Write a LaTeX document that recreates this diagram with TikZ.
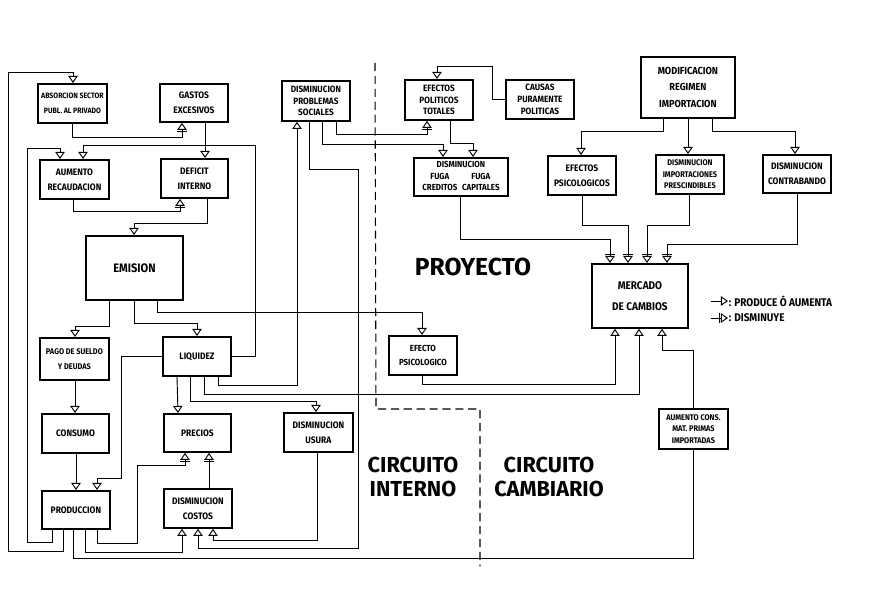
\documentclass[tikz,border=0pt]{standalone}
\usepackage{fontspec}
\usetikzlibrary{arrows.meta,calc}
\newfontfamily\letras{Fira Sans}[FakeStretch=0.9]
\newfontfamily\grandes{Fira Sans}

\tikzset{
  caja/.style={draw, line width=1.6pt, fill=white, anchor=north west, align=center,
    inner sep=1pt, font=\letras\bfseries\fontsize{8}{12.5}\selectfont},
  tres/.style={font=\letras\bfseries\fontsize{7.8}{10}\selectfont},
  chica/.style={font=\letras\bfseries\fontsize{6.6}{12.5}\selectfont},
  grande/.style={font=\letras\bfseries\fontsize{10.5}{17}\selectfont},
  tam/.style 2 args={minimum width=#1*0.03cm, minimum height=#2*0.03cm},
  flujo/.style={line width=0.8pt},
  produce/.style={flujo, -{Triangle[open, width=8pt, length=6pt]}},
  disminuye/.style={flujo, -{Bar[width=9pt, sep=1.2pt] Triangle[open, width=8pt, length=6pt]}},
  titulo/.style={font=\grandes\bfseries\fontsize{18.5}{20.5}\selectfont, align=center},
  leyenda/.style={font=\letras\bfseries\fontsize{9.5}{11}\selectfont, inner sep=0.5pt},
}

\begin{document}
\begin{tikzpicture}[x=0.03cm, y=-0.03cm]
  \useasboundingbox (0,0) rectangle (872,596);

  % Circuito interno
  \node[caja, chica, tam={69}{39}] (absor) at (37,83) {ABSORCION SECTOR\\PUBL. AL PRIVADO};
  \node[caja, tam={68}{38}] (gastos) at (159,83) {GASTOS\\EXCESIVOS};
  \node[caja, tam={69}{39}] (aumento) at (39,159) {AUMENTO\\RECAUDACION};
  \node[caja, tam={67}{39}] (deficit) at (160,158) {DEFICIT\\INTERNO};
  \node[caja, grande, tam={97}{64}] (emision) at (85,235) {EMISION};
  \node[caja, font=\letras\bfseries\fontsize{7}{12.5}\selectfont, tam={69}{42}] (pago) at (39,337) {PAGO DE SUELDO\\Y DEUDAS};
  \node[caja, tam={68}{39}] (liquidez) at (162,336) {LIQUIDEZ};
  \node[caja, tam={67}{39}] (consumo) at (41,413) {CONSUMO};
  \node[caja, tam={67}{38}] (precios) at (163,413) {PRECIOS};
  \node[caja, tam={69}{39}] (usura) at (283,412) {DISMINUCION\\USURA};
  \node[caja, tam={68}{38}] (produc) at (41,490) {PRODUCCION};
  \node[caja, tam={68}{39}] (costos) at (163,488) {DISMINUCION\\COSTOS};
  \node[caja, tres, tam={68}{40}] (problemas) at (281,80) {DISMINUCION\\PROBLEMAS\\SOCIALES};

  % Circuito cambiario
  \node[caja, tres, tam={68}{40}] (politicos) at (404,79) {EFECTOS\\POLITICOS\\TOTALES};
  \node[caja, tres, tam={68}{39}] (causas) at (505,79) {CAUSAS\\PURAMENTE\\POLITICAS};
  \node[caja, font=\letras\bfseries\fontsize{7.5}{10}\selectfont, tam={94}{38}] (fuga) at (413,157)
    {\begin{tabular}{@{}c@{\hspace{4pt}}c@{}}\multicolumn{2}{c}{DISMINUCION}\\FUGA&FUGA\\CREDITOS&CAPITALES\end{tabular}};
  \node[caja, font=\letras\bfseries\fontsize{8.7}{14}\selectfont, tam={94}{61}] (modif) at (640,56) {MODIFICACION\\REGIMEN\\IMPORTACION};
  \node[caja, tam={68}{39}] (efpsico) at (547,155) {EFECTOS\\PSICOLOGICOS};
  \node[caja, font=\letras\bfseries\fontsize{7}{10}\selectfont, tam={68}{39}] (imports) at (655,154) {DISMINUCION\\IMPORTACIONES\\PRESCINDIBLES};
  \node[caja, tam={68}{38}] (contra) at (762,154) {DISMINUCION\\CONTRABANDO};
  \node[caja, font=\letras\bfseries\fontsize{9.5}{18}\selectfont, tam={96}{64}] (mercado) at (591,263) {MERCADO\\DE CAMBIOS};
  \node[caja, font=\letras\bfseries\fontsize{7.5}{12.5}\selectfont, tam={68}{39}] (efecto) at (388,335) {EFECTO\\PSICOLOGICO};
  \node[caja, font=\letras\bfseries\fontsize{7}{10}\selectfont, tam={69}{40}] (matprim) at (658,408) {AUMENTO CONS.\\MAT. PRIMAS\\IMPORTADAS};

  % Division entre circuitos
  \draw[line width=0.9pt, dash pattern=on 7pt off 4pt] (375,63) -- (376,409) -- (480,409) -- (480,566);

  % Lazos que salen de la produccion
  \draw[produce] ($(produc.south west)+(22,0)$) |- (8,551) -- (8,72) -| ($(absor.north west)+(36,0)$);
  \draw[produce] ($(produc.south west)+(11,0)$) |- (27,542) -- (27,148) -| ($(aumento.north west)+(21,0)$);
  \draw[flujo] ($(produc.south west)+(32,0)$) |- (693,558) -- ($(matprim.south west)+(35,0)$);
  \draw[produce] ($(produc.south west)+(44,0)$) -- ++(0,23) -| ($(costos.south west)+(19,0)$);
  \draw[disminuye] ($(produc.south west)+(56,0)$) -- ++(0,14) -| (137,465) -| ($(precios.south west)+(22,0)$);

  % Gasto, deficit y emision
  \draw[disminuye] ($(absor.south west)+(35,0)$) -- ++(0,14) -| ($(gastos.south west)+(23,0)$);
  \draw[produce] ($(gastos.south west)+(46,0)$) -- ($(deficit.north west)+(45,0)$);
  \draw[disminuye] ($(aumento.south west)+(34,0)$) -- ++(0,12) -| ($(deficit.south west)+(20,0)$);
  \draw[produce] ($(deficit.south west)+(47,0)$) -- ++(0,25) -| ($(emision.north west)+(49,0)$);
  \draw[produce] ($(emision.south west)+(24,0)$) -- ++(0,26) -| ($(pago.north west)+(36,0)$);
  \draw[produce] ($(emision.south west)+(49,0)$) -- ++(0,23) -| ($(liquidez.north west)+(35,0)$);
  \draw[produce] ($(emision.south west)+(72,0)$) -- ++(0,12) -| ($(efecto.north west)+(34,0)$);
  \draw[produce] ($(pago.south west)+(36,0)$) -- ($(consumo.north west)+(34,0)$);
  \draw[produce] ($(consumo.south west)+(35,0)$) -- ($(produc.north west)+(35,0)$);

  % Salidas de la liquidez
  \draw[produce] (liquidez.east) -| (255,145) -| ($(aumento.north west)+(44,0)$);
  \draw[produce] (liquidez.west) -| (121,478) -| ($(produc.north west)+(56,0)$);
  \draw[produce] ($(liquidez.south west)+(15,0)$) -- ($(precios.north west)+(15,0)$);
  \draw[produce] ($(liquidez.south west)+(28,0)$) -- ++(0,25) -| ($(usura.north west)+(33,0)$);
  \draw[produce] ($(liquidez.south west)+(42,0)$) -- ++(0,18) -| ($(mercado.south west)+(48,0)$);
  \draw[produce] ($(liquidez.south west)+(56,0)$) -- ++(0,9) -| ($(problemas.south west)+(16,0)$);

  % Costos y precios
  \draw[disminuye] ($(costos.north west)+(46,0)$) -- ($(precios.south west)+(46,0)$);
  \draw[produce] ($(usura.south west)+(34,0)$) -- ++(0,88) -| ($(costos.south west)+(50,0)$);
  \draw[produce] ($(problemas.south west)+(28,0)$) -- ++(0,48) -| (358,548) -| ($(costos.south west)+(35,0)$);

  % Efectos politicos y fuga
  \draw[produce] ($(problemas.south west)+(41,0)$) -- ++(0,23) -| ($(fuga.north west)+(30,0)$);
  \draw[disminuye] ($(problemas.south west)+(55,0)$) -- ++(0,13) -| ($(politicos.south west)+(23,0)$);
  \draw[produce] ($(politicos.south west)+(46,0)$) -- ++(0,23) -| ($(fuga.north west)+(60,0)$);
  \draw[produce] (causas.west) -| (492,66) -| ($(politicos.north west)+(33,0)$);

  % Regimen de importacion
  \draw[produce] ($(modif.south west)+(23,0)$) -- ++(0,13) -| ($(efpsico.north west)+(34,0)$);
  \draw[produce] ($(modif.south west)+(48,0)$) -- ($(imports.north west)+(33,0)$);
  \draw[produce] ($(modif.south west)+(72,0)$) -- ++(0,13) -| ($(contra.north west)+(33,0)$);

  % Llegadas al mercado de cambios
  \draw[disminuye] ($(fuga.south west)+(47,0)$) -- ++(0,43) -| ($(mercado.north west)+(19,0)$);
  \draw[disminuye] ($(efpsico.south west)+(35,0)$) -- ++(0,30) -| ($(mercado.north west)+(37,0)$);
  \draw[disminuye] ($(imports.south west)+(34,0)$) -- ++(0,31) -| ($(mercado.north west)+(56,0)$);
  \draw[disminuye] ($(contra.south west)+(35,0)$) -- ++(0,51) -| ($(mercado.north west)+(76,0)$);
  \draw[produce] ($(efecto.south west)+(34,0)$) -- ++(0,9) -| ($(mercado.south west)+(24,0)$);
  \draw[produce] ($(matprim.north west)+(35,0)$) -- ++(0,-58) -| ($(mercado.south west)+(71,0)$);

  % Titulos
  \node[titulo, font=\grandes\bfseries\fontsize{21}{24}\selectfont] (proyecto) at (473,267) {PROYECTO};
  \node[titulo] (interno) at (413,477) {CIRCUITO\\INTERNO};
  \node[titulo] (cambiario) at (549,477) {CIRCUITO\\CAMBIARIO};

  % Leyenda
  \node[leyenda, anchor=west] (leypr) at (728,301) {: PRODUCE Ó AUMENTA};
  \node[leyenda, anchor=west] (leydis) at (728,318) {: DISMINUYE};
  \coordinate (pr0) at (711,301);
  \coordinate (dis0) at (711,318);
  \draw[produce] (pr0) -- (leypr.west);
  \draw[disminuye] (dis0) -- (leydis.west);
\end{tikzpicture}
\end{document}
